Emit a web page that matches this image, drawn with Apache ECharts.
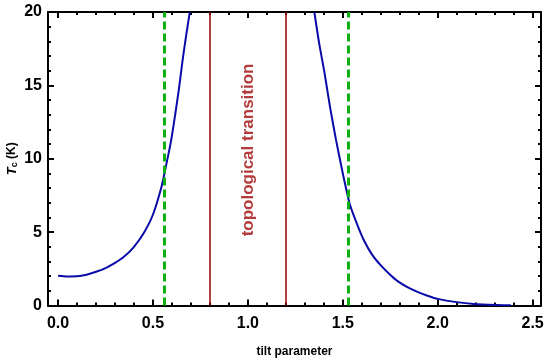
<!DOCTYPE html>
<html><head><meta charset="utf-8">
<script src="https://cdn.jsdelivr.net/npm/echarts@6/dist/echarts.min.js"></script>
<style>html,body{margin:0;padding:0;background:#fff}#c{width:545px;height:360px}</style>
</head><body><div id="c"></div>
<script>
// Data
const leftBranch = [[0,2.03],[0.05,1.98],[0.1,1.99],[0.15,2.1],[0.2,2.3],[0.25,2.55],[0.3,2.9],[0.35,3.35],[0.4,4.0],[0.45,4.9],[0.5,6.2],[0.547,8.2],[0.57,9.6],[0.595,11.2],[0.618,13.1],[0.637,14.8],[0.657,16.8],[0.676,18.5],[0.694,20]];
const rightBranch = [[1.35,20],[1.375,17.9],[1.403,15.9],[1.433,13.5],[1.464,11.3],[1.5,9.0],[1.537,6.9],[1.575,5.55],[1.611,4.45],[1.655,3.45],[1.699,2.75],[1.745,2.15],[1.787,1.68],[1.84,1.25],[1.893,0.93],[1.95,0.65],[2.0,0.45],[2.1,0.23],[2.19,0.11],[2.315,0.04],[2.385,0.02]];
const redLines = [0.8, 1.2];
const greenLines = [0.56, 1.53];
const xMajor = [0, 0.5, 1.0, 1.5, 2.0, 2.5];
const xMinor = [0.1,0.2,0.3,0.4,0.6,0.7,0.8,0.9,1.1,1.2,1.3,1.4,1.6,1.7,1.8,1.9,2.1,2.2,2.3,2.4];
const yTicks = [0, 5, 10, 15, 20];
const annotation = {x: 1.0, y: 10.6, text: 'topological transition'};

const chart = echarts.init(document.getElementById('c'));
const XMIN = -0.053, XMAX = 2.544;
const FF = 'Liberation Sans, Arial, sans-serif';
const lab = {fontFamily:FF, fontWeight:'bold', fontSize:16, color:'#000'};
function xAx(pos, ticks, len, withLine, withLabel){
  return {type:'value', position:pos, min:XMIN, max:XMAX,
    axisLine:{show:withLine, onZero:false, lineStyle:{color:'#000', width:2}},
    axisTick:{show:true, inside:true, length:len, customValues:ticks, lineStyle:{color:'#000', width:2}},
    axisLabel:{show:withLabel, customValues:ticks, margin:10, formatter:v=>v.toFixed(1), ...lab},
    splitLine:{show:false}};
}
function yAx(pos, withLabel){
  return {type:'value', position:pos, min:0, max:20, interval:5,
    axisLine:{show:true, onZero:false, lineStyle:{color:'#000', width:2}},
    axisTick:{show:true, inside:true, length:6, lineStyle:{color:'#000', width:2}},
    minorTick:{show:true, splitNumber:5, length:3, lineStyle:{color:'#000', width:2}},
    axisLabel:{show:withLabel, margin:6, formatter:v=>String(v), customValues:yTicks, ...lab},
    splitLine:{show:false}};
}
const xAxes = [xAx('bottom', xMajor, 6, true, true), xAx('bottom', xMinor, 3, false, false), xAx('top', xMajor, 6, true, false), xAx('top', xMinor, 3, false, false)];
xAxes[0].name = 'tilt parameter';
xAxes[0].nameLocation = 'middle';
xAxes[0].nameGap = 40;
xAxes[0].nameMoveOverlap = false;
xAxes[0].nameTextStyle = {fontFamily:FF, fontWeight:'bold', fontSize:12, color:'#000'};
const yAxes = [yAx('left', true), yAx('right', false)];
yAxes[0].name = '{i|T}{s|c} (K)';
yAxes[0].nameLocation = 'middle';
yAxes[0].nameGap = 36;
yAxes[0].nameMoveOverlap = false;
yAxes[0].nameRotate = 90;
yAxes[0].nameTextStyle = {fontFamily:FF, fontWeight:'bold', fontSize:12, color:'#000', verticalAlign:'middle',
  rich:{i:{fontStyle:'italic', fontWeight:'bold', fontSize:13, fontFamily:FF},
        s:{fontSize:9, fontWeight:'bold', verticalAlign:'bottom', padding:[6,0,0,0], fontFamily:FF}}};

const vline = (vals, color, width, type) => ({
  silent:true, symbol:'none', label:{show:false},
  lineStyle:{color, width, type, opacity:1},
  emphasis:{disabled:true},
  data: vals.map(v=>({xAxis:v}))
});

chart.setOption({
  animation:false,
  grid:{left:48, right:4, top:12, bottom:54.5, outerBoundsMode:'none', containLabel:false},
  xAxis: xAxes,
  yAxis: yAxes,
  series:[
    {type:'line', xAxisIndex:0, yAxisIndex:0, data:[], markLine: vline(redLines, '#990000', 1.5, 'solid')},
    {type:'line', xAxisIndex:0, yAxisIndex:0, data:[], markLine: vline(greenLines, '#10b010', 3, [8,4])},
    {type:'line', xAxisIndex:0, yAxisIndex:0, data:leftBranch, smooth:0.25, showSymbol:false, lineStyle:{color:'#0a0aa8', width:2}},
    {type:'line', xAxisIndex:0, yAxisIndex:0, data:rightBranch, smooth:0.25, showSymbol:false, lineStyle:{color:'#0a0aa8', width:2}},
    {type:'scatter', xAxisIndex:0, yAxisIndex:0, symbolSize:0, data:[[annotation.x, annotation.y]],
      label:{show:true, position:'inside', rotate:90, formatter:'{t|' + annotation.text + '}',
        rich:{t:{color:'#a00a0a', fontFamily:FF, fontWeight:'bold', fontSize:17}}}}
  ]
});
</script></body></html>
